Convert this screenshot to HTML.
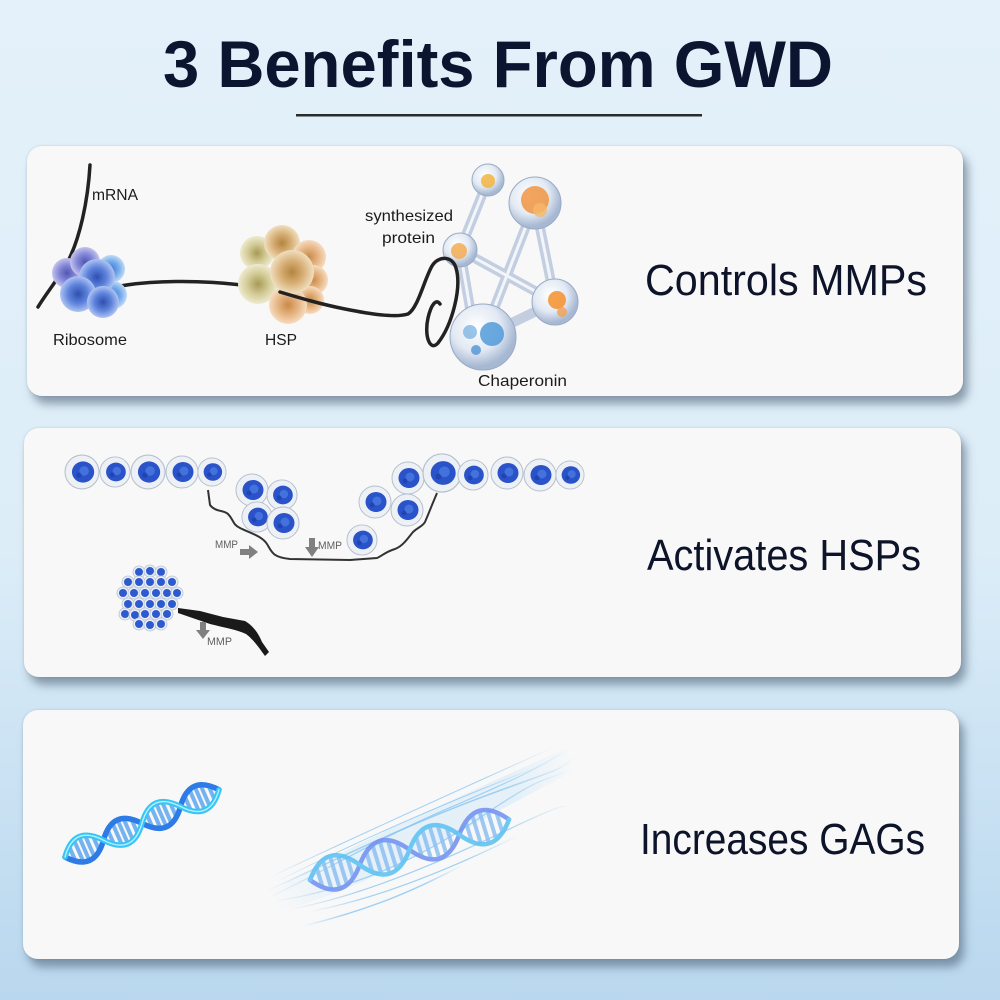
<!DOCTYPE html>
<html><head><meta charset="utf-8">
<style>
html,body{margin:0;padding:0}
body{width:1000px;height:1000px;position:relative;overflow:hidden;
background:linear-gradient(180deg,#e4f1fa 0%,#dcedf8 55%,#b9d7ee 100%);
font-family:"Liberation Sans",sans-serif}
.card{position:absolute;background:#f8f8f8;border-radius:15px;
box-shadow:5px 8px 9px rgba(70,90,110,0.55),0 0 2px rgba(80,100,120,0.25)}
svg{position:absolute;left:0;top:0}
</style></head>
<body>
<div class="card" style="left:27px;top:146px;width:936px;height:250px"></div>
<div class="card" style="left:24px;top:428px;width:937px;height:249px"></div>
<div class="card" style="left:23px;top:710px;width:936px;height:249px"></div>

<svg width="1000" height="1000" viewBox="0 0 1000 1000">
<defs>
 <radialGradient id="rb" cx="50%" cy="50%" r="50%">
  <stop offset="0" stop-color="#2f4fb0"/><stop offset="0.55" stop-color="#5f84dc"/><stop offset="1" stop-color="#afc4f2"/>
 </radialGradient>
 <radialGradient id="rp" cx="50%" cy="50%" r="50%">
  <stop offset="0" stop-color="#5256b2"/><stop offset="0.55" stop-color="#8589d8"/><stop offset="1" stop-color="#c4c4ee"/>
 </radialGradient>
 <radialGradient id="rl" cx="50%" cy="50%" r="50%">
  <stop offset="0" stop-color="#3f78d4"/><stop offset="0.55" stop-color="#74aaea"/><stop offset="1" stop-color="#c0daf6"/>
 </radialGradient>
 <radialGradient id="hs" cx="50%" cy="50%" r="50%">
  <stop offset="0" stop-color="#b3843e"/><stop offset="0.55" stop-color="#d9b27a"/><stop offset="1" stop-color="#f0dfc0"/>
 </radialGradient>
 <radialGradient id="hg" cx="50%" cy="50%" r="50%">
  <stop offset="0" stop-color="#a89a55"/><stop offset="0.55" stop-color="#d4cc98"/><stop offset="1" stop-color="#eeead0"/>
 </radialGradient>
 <radialGradient id="ho" cx="50%" cy="50%" r="50%">
  <stop offset="0" stop-color="#c88a48"/><stop offset="0.55" stop-color="#e6b584"/><stop offset="1" stop-color="#f6dcc0"/>
 </radialGradient>
 <radialGradient id="gl" cx="40%" cy="35%" r="60%">
  <stop offset="0" stop-color="#ffffff"/><stop offset="0.6" stop-color="#e3eaf4"/><stop offset="1" stop-color="#a7b8d2"/>
 </radialGradient>
 <linearGradient id="wg" x1="0" y1="0" x2="1" y2="0">
  <stop offset="0" stop-color="#7cc0f0" stop-opacity="0"/>
  <stop offset="0.25" stop-color="#7cc0f0" stop-opacity="0.7"/>
  <stop offset="0.75" stop-color="#7cc0f0" stop-opacity="0.7"/>
  <stop offset="1" stop-color="#7cc0f0" stop-opacity="0"/>
 </linearGradient>
 <linearGradient id="bg2" x1="0" y1="0" x2="1" y2="0">
  <stop offset="0" stop-color="#cde6f8" stop-opacity="0"/>
  <stop offset="0.3" stop-color="#cde6f8" stop-opacity="0.45"/>
  <stop offset="0.8" stop-color="#cde6f8" stop-opacity="0.45"/>
  <stop offset="1" stop-color="#cde6f8" stop-opacity="0"/>
 </linearGradient>
 <g id="cell">
  <circle r="16" fill="#edf1f6" stroke="#b4bfcd" stroke-width="1"/>
  <ellipse cx="1" cy="0" rx="10.5" ry="10" fill="#2a52c9"/>
  <circle cx="2" cy="-1" r="4.5" fill="#5688ea" opacity="0.6"/>
  <circle cx="-3" cy="3" r="2.5" fill="#1c3ea8" opacity="0.7"/>
 </g>
 <g id="sc">
  <circle r="6" fill="#e9eef5" stroke="#b8c2cf" stroke-width="0.8"/>
  <circle r="4" fill="#2d5ad0"/>
 </g>
</defs>

<!-- Title -->
<text x="163" y="87" font-family="Liberation Sans, sans-serif" font-weight="bold" font-size="66" fill="#0c1530" textLength="670" lengthAdjust="spacingAndGlyphs">3 Benefits From GWD</text>
<rect x="296" y="114" width="406" height="2.5" fill="#2b2b2b"/>

<!-- Right labels -->
<g font-family="Liberation Sans, sans-serif" font-size="44" fill="#0d1328">
 <text x="645" y="295" textLength="282" lengthAdjust="spacingAndGlyphs">Controls MMPs</text>
 <text x="647" y="570" textLength="274" lengthAdjust="spacingAndGlyphs">Activates HSPs</text>
 <text x="640" y="854" textLength="285" lengthAdjust="spacingAndGlyphs">Increases GAGs</text>
</g>

<!-- ===== Card 1 ===== -->
<path d="M90,165 C88,200 80,240 66,265 C56,282 45,295 38,307" fill="none" stroke="#222" stroke-width="3.5" stroke-linecap="round"/>
<path d="M115,287 C150,280 200,280 242,285" fill="none" stroke="#222" stroke-width="3.5"/>
<!-- ribosome -->
<g>
 <circle cx="67" cy="273" r="15" fill="url(#rp)"/>
 <circle cx="85" cy="262" r="15" fill="url(#rp)"/>
 <circle cx="111" cy="269" r="14" fill="url(#rl)"/>
 <circle cx="113" cy="295" r="14" fill="url(#rl)"/>
 <circle cx="97" cy="277" r="18" fill="url(#rb)"/>
 <circle cx="78" cy="294" r="18" fill="url(#rb)"/>
 <circle cx="103" cy="302" r="16" fill="url(#rb)"/>
</g>
<!-- HSP -->
<g>
 <circle cx="257" cy="253" r="17" fill="url(#hg)"/>
 <circle cx="282" cy="243" r="18" fill="url(#hs)"/>
 <circle cx="309" cy="257" r="17" fill="url(#ho)"/>
 <circle cx="313" cy="280" r="15" fill="url(#ho)"/>
 <circle cx="310" cy="300" r="14" fill="url(#ho)"/>
 <circle cx="258" cy="284" r="20" fill="url(#hg)"/>
 <circle cx="288" cy="305" r="19" fill="url(#ho)"/>
 <circle cx="292" cy="272" r="22" fill="url(#hs)"/>
</g>
<!-- molecule -->
<g stroke-linecap="round" fill="none">
 <g stroke="#c3cee0" stroke-width="10">
  <line x1="488" y1="180" x2="460" y2="250"/>
  <line x1="460" y1="250" x2="555" y2="302"/>
  <line x1="460" y1="250" x2="475" y2="337"/>
  <line x1="535" y1="203" x2="483" y2="337"/>
  <line x1="535" y1="203" x2="555" y2="302"/>
  <line x1="555" y1="302" x2="483" y2="337"/>
 </g>
 <g stroke="#f2f5fa" stroke-width="3">
  <line x1="488" y1="180" x2="460" y2="250"/>
  <line x1="460" y1="250" x2="555" y2="302"/>
  <line x1="460" y1="250" x2="475" y2="337"/>
  <line x1="535" y1="203" x2="483" y2="337"/>
  <line x1="535" y1="203" x2="555" y2="302"/>
 </g>
</g>
<g stroke="#98aac4" stroke-width="1">
 <circle cx="488" cy="180" r="16" fill="url(#gl)"/>
 <circle cx="535" cy="203" r="26" fill="url(#gl)"/>
 <circle cx="460" cy="250" r="17" fill="url(#gl)"/>
 <circle cx="555" cy="302" r="23" fill="url(#gl)"/>
 <circle cx="483" cy="337" r="33" fill="url(#gl)"/>
</g>
<circle cx="488" cy="181" r="7" fill="#f2b440" opacity="0.85"/>
<circle cx="535" cy="200" r="14" fill="#f08e36" opacity="0.8"/>
<circle cx="540" cy="210" r="7" fill="#f6b868" opacity="0.8"/>
<circle cx="459" cy="251" r="8" fill="#f2a848" opacity="0.8"/>
<circle cx="557" cy="300" r="9" fill="#f5902a" opacity="0.85"/>
<circle cx="562" cy="312" r="5" fill="#f4a050" opacity="0.8"/>
<circle cx="492" cy="334" r="12" fill="#3d8fd6" opacity="0.75"/>
<circle cx="470" cy="332" r="7" fill="#5aa0dc" opacity="0.6"/>
<circle cx="476" cy="350" r="5" fill="#3a88d0" opacity="0.7"/>
<!-- protein line -->
<path d="M280,292 C300,298 320,304 345,309 C370,314 395,318 408,314 C418,308 424,280 432,266 C438,256 452,255 456,268 C462,288 452,325 438,343 C430,352 424,336 428,318 C431,305 436,298 440,304" fill="none" stroke="#222" stroke-width="3.5" stroke-linecap="round"/>
<!-- labels -->
<g font-family="Liberation Sans, sans-serif" font-size="16" fill="#1b1b1b">
 <text x="92" y="200" textLength="46" lengthAdjust="spacingAndGlyphs">mRNA</text>
 <text x="53" y="345" textLength="74" lengthAdjust="spacingAndGlyphs">Ribosome</text>
 <text x="265" y="345" textLength="32" lengthAdjust="spacingAndGlyphs">HSP</text>
 <text x="365" y="221" textLength="88" lengthAdjust="spacingAndGlyphs">synthesized</text>
 <text x="382" y="243" textLength="53" lengthAdjust="spacingAndGlyphs">protein</text>
 <text x="478" y="386" textLength="89" lengthAdjust="spacingAndGlyphs">Chaperonin</text>
</g>

<!-- ===== Card 2 ===== -->
<path d="M208,490 L210,505 C215,512 224,510 228,514 C234,520 232,524 240,528 C250,533 262,536 267,544 C272,552 272,557 290,559 L350,560 L377,558 C382,556 385,552 395,549 C403,546 408,538 413,532 C418,527 422,527 425,522 C428,515 430,510 432,505 L437,493" fill="none" stroke="#333" stroke-width="2"/>
<use href="#cell" transform="translate(82,472) scale(1.06)"/>
<use href="#cell" transform="translate(115,472) scale(0.94)"/>
<use href="#cell" transform="translate(148,472) scale(1.06)"/>
<use href="#cell" transform="translate(182,472) scale(1)"/>
<use href="#cell" transform="translate(212,472) scale(0.88)"/>
<use href="#cell" transform="translate(252,490) scale(1)"/>
<use href="#cell" transform="translate(282,495) scale(0.94)"/>
<use href="#cell" transform="translate(257,517) scale(0.94)"/>
<use href="#cell" transform="translate(283,523) scale(1)"/>
<use href="#cell" transform="translate(362,540) scale(0.94)"/>
<use href="#cell" transform="translate(375,502) scale(1)"/>
<use href="#cell" transform="translate(407,510) scale(1)"/>
<use href="#cell" transform="translate(408,478) scale(1)"/>
<use href="#cell" transform="translate(442,473) scale(1.19)"/>
<use href="#cell" transform="translate(473,475) scale(0.94)"/>
<use href="#cell" transform="translate(507,473) scale(1)"/>
<use href="#cell" transform="translate(540,475) scale(1)"/>
<use href="#cell" transform="translate(570,475) scale(0.88)"/>
<!-- dense cluster -->
<g>
 <use href="#sc" x="139" y="572"/><use href="#sc" x="150" y="571"/><use href="#sc" x="161" y="572"/>
 <use href="#sc" x="128" y="582"/><use href="#sc" x="139" y="582"/><use href="#sc" x="150" y="582"/><use href="#sc" x="161" y="582"/><use href="#sc" x="172" y="582"/>
 <use href="#sc" x="123" y="593"/><use href="#sc" x="134" y="593"/><use href="#sc" x="145" y="593"/><use href="#sc" x="156" y="593"/><use href="#sc" x="167" y="593"/><use href="#sc" x="177" y="593"/>
 <use href="#sc" x="128" y="604"/><use href="#sc" x="139" y="604"/><use href="#sc" x="150" y="604"/><use href="#sc" x="161" y="604"/><use href="#sc" x="172" y="604"/>
 <use href="#sc" x="125" y="614"/><use href="#sc" x="135" y="615"/><use href="#sc" x="145" y="614"/><use href="#sc" x="156" y="614"/><use href="#sc" x="167" y="614"/>
 <use href="#sc" x="139" y="624"/><use href="#sc" x="150" y="625"/><use href="#sc" x="161" y="624"/>
</g>
<path d="M178,608 L200,611 L223,617 L245,621 C252,625 258,632 262,642 L269,652 L265,656 C259,648 254,640 246,634 C238,630 226,628 210,624 L178,613 Z" fill="#1a1a1a"/>
<!-- MMP arrows -->
<g fill="#808080">
 <rect x="240" y="549" width="10" height="6"/><polygon points="249,545 258,552 249,559"/>
 <rect x="309" y="538" width="6" height="10"/><polygon points="305,547 319,547 312,557"/>
 <rect x="200" y="622" width="6" height="9"/><polygon points="196,630 210,630 203,639"/>
</g>
<g font-family="Liberation Sans, sans-serif" font-size="11" fill="#606060">
 <text x="215" y="548" textLength="23" lengthAdjust="spacingAndGlyphs">MMP</text>
 <text x="318" y="549" textLength="24" lengthAdjust="spacingAndGlyphs">MMP</text>
 <text x="207" y="645" textLength="25" lengthAdjust="spacingAndGlyphs">MMP</text>
</g>

<!-- ===== Card 3 ===== -->
<!-- DNA 1 -->
<g transform="translate(65,857) rotate(-23.6)" fill="none" stroke-linecap="round">
 <path d="M8,-7.3V7.3M15,-11.7V11.7M21,-13V13M27,-11.7V11.7M34,-7.3V7.3M50,-7.3V7.3M57,-11.7V11.7M63,-13V13M69,-11.7V11.7M76,-7.3V7.3M92,-7.3V7.3M99,-11.7V11.7M105,-13V13M111,-11.7V11.7M118,-7.3V7.3M134,-7.3V7.3M141,-11.7V11.7M147,-13V13M153,-11.7V11.7M160,-7.3V7.3" stroke="#74b2f0" stroke-width="4"/>
 <path d="M0,0 Q21,26 42,0 T84,0 T126,0 T168,0" stroke="#2d7be6" stroke-width="5.5"/>
 <path d="M0,0 Q21,-26 42,0 T84,0 T126,0 T168,0" stroke="#36c6f5" stroke-width="5.5"/>
 <path d="M0,0 Q21,-26 42,0 T84,0 T126,0 T168,0" stroke="#d8f6ff" stroke-width="1.4" opacity="0.8"/>
</g>
<!-- wisps -->
<g transform="translate(310,880) rotate(-16.9)" fill="none">
 <path d="M-45,0 C50,-22 150,-34 285,-52 L288,-28 C150,-4 50,28 -45,20 Z" fill="url(#bg2)"/>
 <path d="M-45,5 C20,-5 80,-20 150,-28 S250,-40 285,-50" stroke="url(#wg)" stroke-width="1.2"/>
 <path d="M-40,10 C30,20 100,15 180,-10 S250,-25 280,-30" stroke="url(#wg)" stroke-width="1.2"/>
 <path d="M-30,22 C40,30 120,22 200,10 S260,5 272,5" stroke="url(#wg)" stroke-width="1.2"/>
 <path d="M-45,-2 C30,-12 110,-25 200,-30 S260,-32 290,-40" stroke="url(#wg)" stroke-width="1.5"/>
 <path d="M-10,30 C60,38 140,30 212,18" stroke="url(#wg)" stroke-width="1.2"/>
 <path d="M-20,42 C50,46 100,40 150,30" stroke="url(#wg)" stroke-width="1.5"/>
 <path d="M-35,-8 C40,-20 120,-32 250,-42" stroke="url(#wg)" stroke-width="1"/>
 <path d="M-40,-14 C40,-26 130,-38 270,-56" stroke="url(#wg)" stroke-width="1"/>
</g>
<!-- DNA 2 -->
<g transform="translate(310,880) rotate(-16.9)" fill="none" stroke-linecap="round" opacity="0.85">
 <path d="M10,-9.7V9.7M18,-15V15M26,-17V17M34,-15V15M42,-9.7V9.7M62,-9.7V9.7M70,-15V15M78,-17V17M86,-15V15M94,-9.7V9.7M114,-9.7V9.7M122,-15V15M130,-17V17M138,-15V15M146,-9.7V9.7M166,-9.7V9.7M174,-15V15M182,-17V17M190,-15V15M198,-9.7V9.7" stroke="#8cc0f0" stroke-width="4"/>
 <path d="M0,0 Q26,34 52,0 T104,0 T156,0 T208,0" stroke="#6f8ff0" stroke-width="4.5"/>
 <path d="M0,0 Q26,-34 52,0 T104,0 T156,0 T208,0" stroke="#58c0f2" stroke-width="4.5"/>
</g>
</svg>
</body></html>
